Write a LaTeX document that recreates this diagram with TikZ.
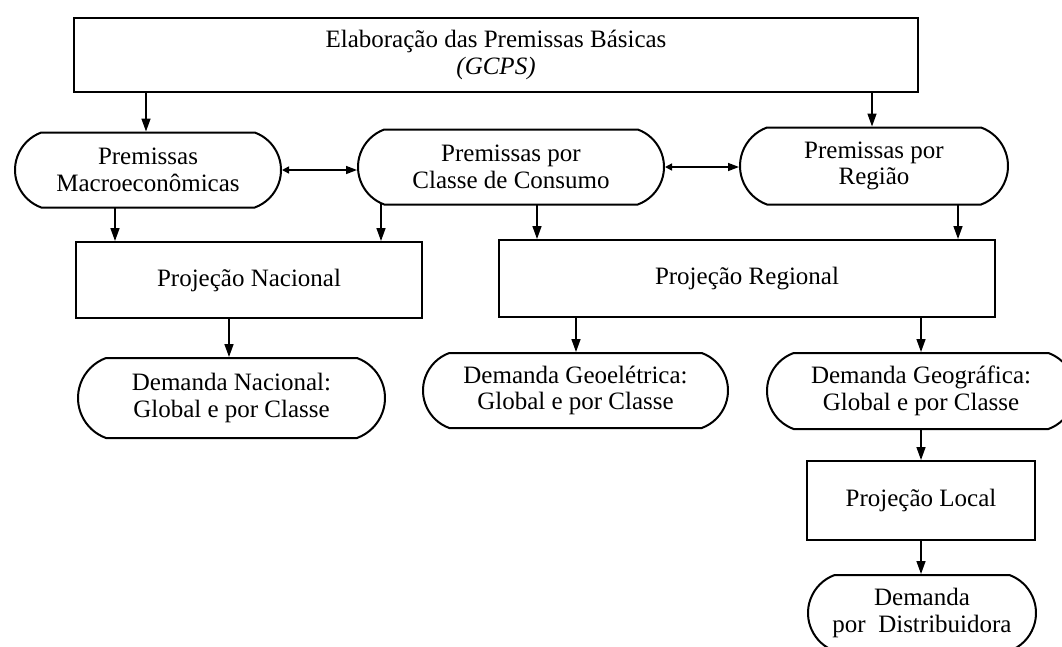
\documentclass[tikz,border=0pt]{standalone}
\usepackage{fontspec}
\setmainfont{Liberation Serif}
\usetikzlibrary{arrows.meta,shapes.misc,backgrounds}
\begin{document}
\begin{tikzpicture}[x=1pt,y=-1pt,
  every node/.style={font=\fontsize{25}{26.5}\selectfont, align=center, inner sep=0pt},
  procbox/.style={draw, line width=2pt, fill=white, rectangle},
  termbox/.style={draw, line width=2pt, fill=white, rounded rectangle,
                  rounded rectangle arc length=140},
  arr/.style={line width=1.5pt, -{Triangle[length=13pt,width=9pt]}},
  dbl/.style={line width=1.5pt, {Triangle[length=7pt,width=7pt]}-{Triangle[length=11pt,width=8pt]}}
]
\useasboundingbox (0,0) rectangle (1062,646);

% process boxes and terminal (stadium) boxes
\node[procbox, minimum width=844, minimum height=74] (top) at (496,55)
  {Elaboração das Premissas Básicas\\ \textit{(GCPS)}};
\node[termbox, minimum width=266, minimum height=75] (macro) at (148,170)
  {Premissas\\Macroeconômicas};
\node[termbox, minimum width=306, minimum height=75] (classe) at (511,167)
  {Premissas por\\Classe de Consumo};
\node[termbox, minimum width=268, minimum height=77] (regiao) at (874,166)
  {Premissas por\\Região};
\node[procbox, minimum width=346, minimum height=76] (nacional) at (249,280)
  {Projeção Nacional};
\node[procbox, minimum width=496, minimum height=77] (regional) at (747,278.5)
  {Projeção Regional};
\node[termbox, minimum width=307, minimum height=80] (dnac) at (231.5,398)
  {Demanda Nacional:\\Global e por Classe};
\node[termbox, minimum width=305, minimum height=75] (dgeo) at (575.5,390.5)
  {Demanda Geoelétrica:\\Global e por Classe};
\node[termbox, minimum width=308, minimum height=76] (dgeog) at (921,391)
  {Demanda Geográfica:\\Global e por Classe};
\node[procbox, minimum width=228, minimum height=79] (local) at (921,500.5)
  {Projeção Local};
\node[termbox, minimum width=228, minimum height=76] (distrib) at (922,613)
  {Demanda\\por\ \ Distribuidora};

% vertical flow arrows (start hidden behind the white-filled source node)
\begin{scope}[on background layer]
  \draw[arr] (top.center -| 146,0) -- (macro.north -| 146,0);
  \draw[arr] (top.center -| 872,0) -- (regiao.north -| 872,0);
  \draw[arr] (macro.center -| 115,0) -- (nacional.north -| 115,0);
  \draw[arr] (classe.center -| 381,0) -- (nacional.north -| 381,0);
  \draw[arr] (classe.center -| 537,0) -- (regional.north -| 537,0);
  \draw[arr] (regiao.center -| 958,0) -- (regional.north -| 958,0);
  \draw[arr] (nacional.center -| 229,0) -- (dnac.north -| 229,0);
  \draw[arr] (regional.center -| 576,0) -- (dgeo.north -| 576,0);
  \draw[arr] (regional.center -| 921,0) -- (dgeog.north -| 921,0);
  \draw[arr] (dgeog.center -| 921,0) -- (local.north -| 921,0);
  \draw[arr] (local.center -| 921,0) -- (distrib.north -| 921,0);
\end{scope}

% two-way links between the premise groups
\draw[dbl] (macro.east) -- (macro.east -| classe.west);
\draw[dbl] (classe.east) -- (classe.east -| regiao.west);
\end{tikzpicture}
\end{document}
